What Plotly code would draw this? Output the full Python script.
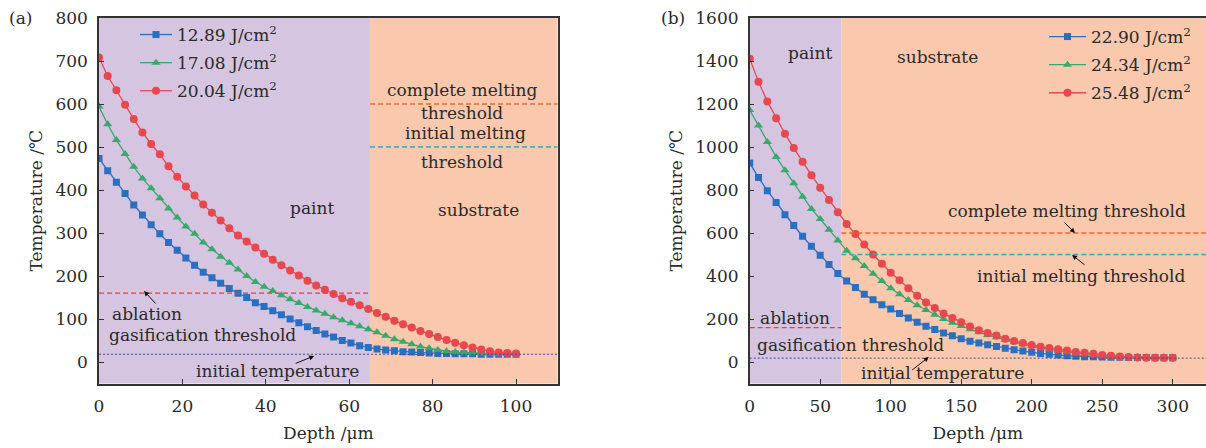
import numpy as np
import plotly.graph_objects as go

# ---- data ---------------------------------------------------------------
depth_a = np.linspace(0, 100, 49)          # µm, panel (a)
depth_b = np.linspace(0, 300, 49)          # µm, panel (b)

labels_a = ["12.89 J/cm<sup>2</sup>", "17.08 J/cm<sup>2</sup>", "20.04 J/cm<sup>2</sup>"]
labels_b = ["22.90 J/cm<sup>2</sup>", "24.34 J/cm<sup>2</sup>", "25.48 J/cm<sup>2</sup>"]

temp_a_1289 = [473, 445, 418, 392, 365, 342, 319, 298, 278, 260, 242, 225, 209, 196, 183,
               171, 160, 150, 138, 129, 119, 110, 100, 91, 82, 73, 65, 58, 50, 44, 38, 34,
               30, 28, 26, 24, 23, 22, 21, 20, 20, 19, 19, 19, 18, 18, 18, 18, 18]
temp_a_1708 = [594, 553, 516, 484, 454, 427, 404, 381, 357, 336, 315, 298, 278, 262, 245,
               231, 215, 200, 186, 175, 165, 155, 146, 137, 128, 120, 112, 104, 97, 90, 83,
               76, 69, 61, 53, 47, 41, 36, 32, 28, 25, 23, 22, 21, 20, 20, 19, 19, 19]
temp_a_2004 = [708, 665, 632, 598, 565, 534, 507, 483, 455, 431, 408, 387, 366, 347, 329,
               311, 294, 280, 266, 252, 238, 225, 213, 201, 189, 178, 168, 158, 148, 140,
               132, 123, 114, 105, 96, 88, 80, 72, 65, 58, 51, 45, 39, 34, 29, 25, 22, 21, 20]

temp_b_2290 = [926, 858, 797, 742, 685, 635, 585, 538, 497, 454, 412, 377, 346, 315, 289,
               266, 246, 226, 205, 185, 166, 151, 135, 122, 108, 97, 88, 80, 72, 64, 57, 51,
               45, 40, 36, 32, 29, 27, 25, 24, 23, 22, 22, 21, 21, 21, 20, 20, 20]
temp_b_2434 = [1172, 1100, 1023, 954, 892, 831, 769, 712, 665, 615, 565, 518, 482, 446, 411,
               377, 343, 315, 288, 264, 242, 220, 200, 183, 167, 152, 138, 126, 115, 102, 92,
               82, 74, 66, 59, 53, 47, 42, 38, 34, 31, 28, 26, 24, 23, 22, 21, 21, 21]
temp_b_2548 = [1411, 1303, 1212, 1134, 1062, 995, 931, 869, 811, 754, 697, 642, 595, 546, 500,
               457, 415, 380, 343, 308, 277, 251, 226, 205, 185, 165, 148, 135, 123, 108, 98,
               88, 79, 71, 65, 59, 53, 47, 43, 38, 33, 29, 26, 23, 21, 20, 20, 20, 20]

paint_thickness = 65        # µm
ablation_t = 160            # °C
initial_melt_t = 500
complete_melt_t = 600
initial_t = 18

xmax_a, xmax_b = 110, 323.6

# ---- styling ------------------------------------------------------------
FONT = "DejaVu Serif"
TXT = "#2a2a2a"
colors = ["#2b6fc1", "#38a86c", "#e8474e"]
symbols = ["square", "triangle-up", "circle"]
sizes = [7, 8, 8]
paint_bg = "#d5c5e0"
sub_bg = "#f9c8ad"

fig = go.Figure()

series_a = [temp_a_1289, temp_a_1708, temp_a_2004]
series_b = [temp_b_2290, temp_b_2434, temp_b_2548]
for i in range(3):
    fig.add_trace(go.Scatter(
        x=depth_a, y=series_a[i], name=labels_a[i], mode="lines+markers",
        line=dict(color=colors[i], width=1.3),
        marker=dict(symbol=symbols[i], size=sizes[i], color=colors[i]),
        xaxis="x", yaxis="y", legend="legend", legendgroup=f"a{i}"))
for i in range(3):
    fig.add_trace(go.Scatter(
        x=depth_b, y=series_b[i], name=labels_b[i], mode="lines+markers",
        line=dict(color=colors[i], width=1.3),
        marker=dict(symbol=symbols[i], size=sizes[i], color=colors[i]),
        xaxis="x2", yaxis="y2", legend="legend2", legendgroup=f"b{i}"))

shapes = []
for xr, yr, xmax in (("x", "y", xmax_a), ("x2", "y2", xmax_b)):
    # paint / substrate regions
    shapes.append(dict(type="rect", xref=xr, yref=f"{yr} domain", x0=0, x1=paint_thickness,
                       y0=0, y1=1, fillcolor=paint_bg, line_width=0, layer="below"))
    shapes.append(dict(type="rect", xref=xr, yref=f"{yr} domain", x0=paint_thickness, x1=xmax,
                       y0=0, y1=1, fillcolor=sub_bg, line_width=0, layer="below"))
    # threshold lines
    shapes.append(dict(type="line", xref=xr, yref=yr, x0=0, x1=paint_thickness,
                       y0=ablation_t, y1=ablation_t,
                       line=dict(color="#ee3b3b", width=1.3, dash="5px,3px")))
    shapes.append(dict(type="line", xref=xr, yref=yr, x0=paint_thickness, x1=xmax,
                       y0=complete_melt_t, y1=complete_melt_t,
                       line=dict(color="#f0662a", width=1.3, dash="5px,3px")))
    shapes.append(dict(type="line", xref=xr, yref=yr, x0=paint_thickness, x1=xmax,
                       y0=initial_melt_t, y1=initial_melt_t,
                       line=dict(color="#1fb3bf", width=1.3, dash="5px,3px")))
    shapes.append(dict(type="line", xref=xr, yref=yr, x0=0, x1=xmax,
                       y0=initial_t, y1=initial_t,
                       line=dict(color="#3c4aa8", width=1, dash="2px,2px")))


def text(x, y, s, xr, yr, xanchor="center", size=17):
    return dict(x=x, y=y, xref=xr, yref=yr, text=s, showarrow=False, xanchor=xanchor,
                yanchor="middle", font=dict(family=FONT, size=size, color=TXT))


def arrow(x, y, ax, ay, xr, yr):
    return dict(x=x, y=y, xref=xr, yref=yr, ax=ax, ay=ay, text="", showarrow=True,
                arrowhead=2, arrowsize=1, arrowwidth=1, arrowcolor="#111111",
                standoff=0, startstandoff=0)


annotations = [
    # panel (a)
    dict(x=20 / 1206, y=1 - 18 / 448, xref="paper", yref="paper", text="(a)", showarrow=False,
         xanchor="center", yanchor="middle", font=dict(family=FONT, size=17, color=TXT)),
    text(51.1, 358, "paint", "x", "y"),
    text(90.9, 353, "substrate", "x", "y"),
    text(87, 633, "complete melting", "x", "y"),
    text(87, 579, "threshold", "x", "y"),
    text(88, 533, "initial melting", "x", "y"),
    text(87, 465, "threshold", "x", "y"),
    text(2.6, 112, "ablation", "x", "y", xanchor="left"),
    text(1.9, 63, "gasification threshold", "x", "y", xanchor="left"),
    text(42.9, -21, "initial temperature", "x", "y"),
    arrow(10.8, 165, 13, 14, "x", "y"),
    arrow(51.6, 14, -20, 8, "x", "y"),
    # panel (b)
    dict(x=673 / 1206, y=1 - 18 / 448, xref="paper", yref="paper", text="(b)", showarrow=False,
         xanchor="center", yanchor="middle", font=dict(family=FONT, size=17, color=TXT)),
    text(42.8, 1437, "paint", "x2", "y2"),
    text(133, 1419, "substrate", "x2", "y2"),
    text(225, 702, "complete melting threshold", "x2", "y2"),
    text(235, 400, "initial melting threshold", "x2", "y2"),
    text(5.9, 205, "ablation", "x2", "y2", xanchor="left"),
    text(3.8, 79, "gasification threshold", "x2", "y2", xanchor="left"),
    text(136.4, -51, "initial temperature", "x2", "y2"),
    arrow(230.7, 600, -12, -12, "x2", "y2"),
    arrow(228.6, 498, 14, 11, "x2", "y2"),
    arrow(127, 23, -18, 14, "x2", "y2"),
]

ydom = [1 - 383.5 / 448, 1 - 18 / 448]
axis_common = dict(showline=True, mirror=True, linecolor="#333333", linewidth=1.5,
                   ticks="inside", ticklen=5, tickwidth=1.2, tickcolor="#333333",
                   showgrid=False, zeroline=False, ticklabelstandoff=6, automargin=False,
                   tickfont=dict(family=FONT, size=17, color=TXT))
title_font = dict(family=FONT, size=17, color=TXT)

fig.update_layout(
    width=1206, height=448, margin=dict(l=0, r=0, t=0, b=0, autoexpand=False),
    paper_bgcolor="white", plot_bgcolor="white",
    xaxis=dict(domain=[99 / 1206, 557.7 / 1206], range=[0, xmax_a], tickvals=[0, 20, 40, 60, 80, 100],
               title=dict(text="Depth /μm", font=title_font, standoff=12), anchor="y", **axis_common),
    yaxis=dict(domain=ydom, range=[-50, 800], dtick=100, anchor="x",
               title=dict(text="Temperature /℃", font=title_font, standoff=8), **axis_common),
    xaxis2=dict(domain=[749.7 / 1206, 1], range=[0, xmax_b], dtick=50, anchor="y2",
                title=dict(text="Depth /μm", font=title_font, standoff=12), **axis_common),
    yaxis2=dict(domain=ydom, range=[-100, 1600], dtick=200, anchor="x2",
                title=dict(text="Temperature /℃", font=title_font, standoff=8), **axis_common),
    legend=dict(x=135 / 1206, y=1 - 17 / 448, xanchor="left", yanchor="top",
                bgcolor="rgba(0,0,0,0)", font=dict(family=FONT, size=17, color=TXT),
                itemwidth=32, tracegroupgap=3),
    legend2=dict(x=1044 / 1206, y=1 - 19 / 448, xanchor="left", yanchor="top",
                 bgcolor="rgba(0,0,0,0)", font=dict(family=FONT, size=17, color=TXT),
                 itemwidth=37, tracegroupgap=3),
    shapes=shapes, annotations=annotations,
)

fig.write_html("out.html")
